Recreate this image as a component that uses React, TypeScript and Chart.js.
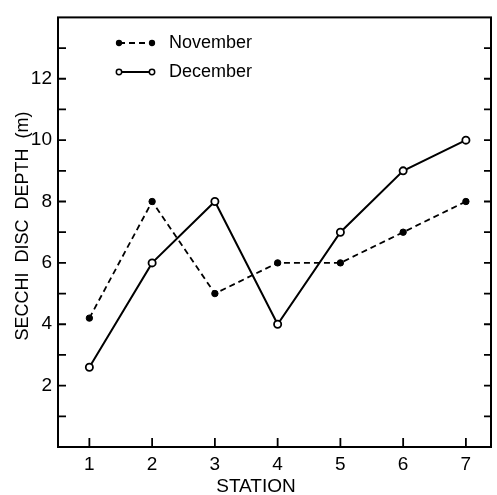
import React, { useEffect, useRef } from "react";
import { Chart, registerables } from "chart.js";

Chart.register(...registerables);

const stations = [1, 2, 3, 4, 5, 6, 7];
const november = [4.2, 8, 5, 6, 6, 7, 8];
const december = [2.6, 6, 8, 4, 7, 9, 10];
const yTickLabels = [2, 4, 6, 8, 10, 12];
const seriesNames = ["November", "December"];
const xTitle = "STATION";
const yTitle = "SECCHI  DISC  DEPTH  (m)";

const FONT = "'Liberation Sans', Arial, Helvetica, sans-serif";

const framePlugin = {
  id: "frame",
  afterDraw(chart: any) {
    const { ctx, chartArea: a, scales } = chart;
    const xs = scales.x;
    const ys = scales.y;
    ctx.save();
    ctx.strokeStyle = "#000";
    ctx.lineWidth = 2;
    ctx.strokeRect(a.left, a.top, a.right - a.left, a.bottom - a.top);
    ctx.lineWidth = 1.8;
    for (let v = 1; v <= 13; v++) {
      const y = ys.getPixelForValue(v);
      ctx.beginPath();
      ctx.moveTo(a.left, y);
      ctx.lineTo(a.left + 8, y);
      ctx.moveTo(a.right, y);
      ctx.lineTo(a.right - 7, y);
      ctx.stroke();
    }
    for (const s of stations) {
      const x = xs.getPixelForValue(s);
      ctx.beginPath();
      ctx.moveTo(x, a.bottom + 1);
      ctx.lineTo(x, a.bottom - 9);
      ctx.stroke();
    }
    ctx.fillStyle = "#000";
    ctx.font = `19px ${FONT}`;
    ctx.textAlign = "center";
    ctx.textBaseline = "alphabetic";
    ctx.fillText(xTitle, 256, 492);
    ctx.save();
    ctx.translate(28, 226);
    ctx.rotate(-Math.PI / 2);
    ctx.font = `18px ${FONT}`;
    ctx.fillText(yTitle, 0, 0);
    ctx.restore();
    const rows = [
      { y: 43, ds: chart.data.datasets[0] },
      { y: 72, ds: chart.data.datasets[1] },
    ];
    for (const r of rows) {
      const x0 = 119;
      const x1 = 152;
      ctx.save();
      ctx.strokeStyle = "#000";
      ctx.lineWidth = r.ds.borderWidth;
      ctx.setLineDash(r.ds.borderDash || []);
      ctx.beginPath();
      ctx.moveTo(x0, r.y);
      ctx.lineTo(x1, r.y);
      ctx.stroke();
      ctx.setLineDash([]);
      for (const px of [x0, x1]) {
        ctx.beginPath();
        ctx.arc(px, r.y, r.ds.pointRadius * 0.75, 0, Math.PI * 2);
        ctx.fillStyle = r.ds.pointBackgroundColor;
        ctx.fill();
        ctx.lineWidth = 1.5;
        ctx.stroke();
      }
      ctx.restore();
      ctx.fillStyle = "#000";
      ctx.font = `18px ${FONT}`;
      ctx.textAlign = "left";
      ctx.textBaseline = "middle";
      ctx.fillText(r.ds.label, 169, r.y);
    }
    ctx.restore();
  },
};

export default function App() {
  const ref = useRef<HTMLCanvasElement>(null);
  useEffect(() => {
    if (!ref.current) return;
    const chart = new Chart(ref.current, {
      type: "line",
      data: {
        datasets: [
          {
            label: seriesNames[0],
            data: stations.map((s, i) => ({ x: s, y: november[i] })),
            borderColor: "#000",
            borderWidth: 1.8,
            borderDash: [6, 4],
            pointRadius: 3.2,
            pointBackgroundColor: "#000",
            pointBorderColor: "#000",
            pointBorderWidth: 1,
            tension: 0,
          },
          {
            label: seriesNames[1],
            data: stations.map((s, i) => ({ x: s, y: december[i] })),
            borderColor: "#000",
            borderWidth: 2,
            pointRadius: 3.6,
            pointBackgroundColor: "#fff",
            pointBorderColor: "#000",
            pointBorderWidth: 1.8,
            tension: 0,
          },
        ],
      },
      options: {
        animation: false,
        responsive: false,
        layout: { padding: { top: 7, right: 6, left: 0, bottom: 0 } },
        plugins: { legend: { display: false }, tooltip: { enabled: false } },
        scales: {
          x: {
            type: "linear",
            min: 0.5,
            max: 7.4,
            grid: { display: false, drawTicks: false },
            border: { display: false },
            afterBuildTicks(scale: any) {
              scale.ticks = stations.map((v) => ({ value: v }));
            },
            afterFit(scale: any) {
              scale.height = 48;
            },
            ticks: {
              autoSkip: false,
              maxRotation: 0,
              padding: 6,
              color: "#000",
              font: { family: FONT, size: 19 },
              callback: (v: any) => String(v),
            },
          },
          y: {
            type: "linear",
            min: 0,
            max: 14,
            grid: { display: false, drawTicks: false },
            border: { display: false },
            afterBuildTicks(scale: any) {
              scale.ticks = yTickLabels.map((v) => ({ value: v }));
            },
            afterFit(scale: any) {
              scale.width = 58;
            },
            ticks: {
              autoSkip: false,
              padding: 6,
              color: "#000",
              font: { family: FONT, size: 19 },
              callback: (v: any) => String(v),
            },
          },
        },
      },
      plugins: [framePlugin],
    } as any);
    return () => chart.destroy();
  }, []);
  return (
    <div style={{ position: "fixed", left: 0, top: 0, width: 497, height: 495, background: "#fff" }}>
      <canvas ref={ref} width={497} height={495} />
    </div>
  );
}
